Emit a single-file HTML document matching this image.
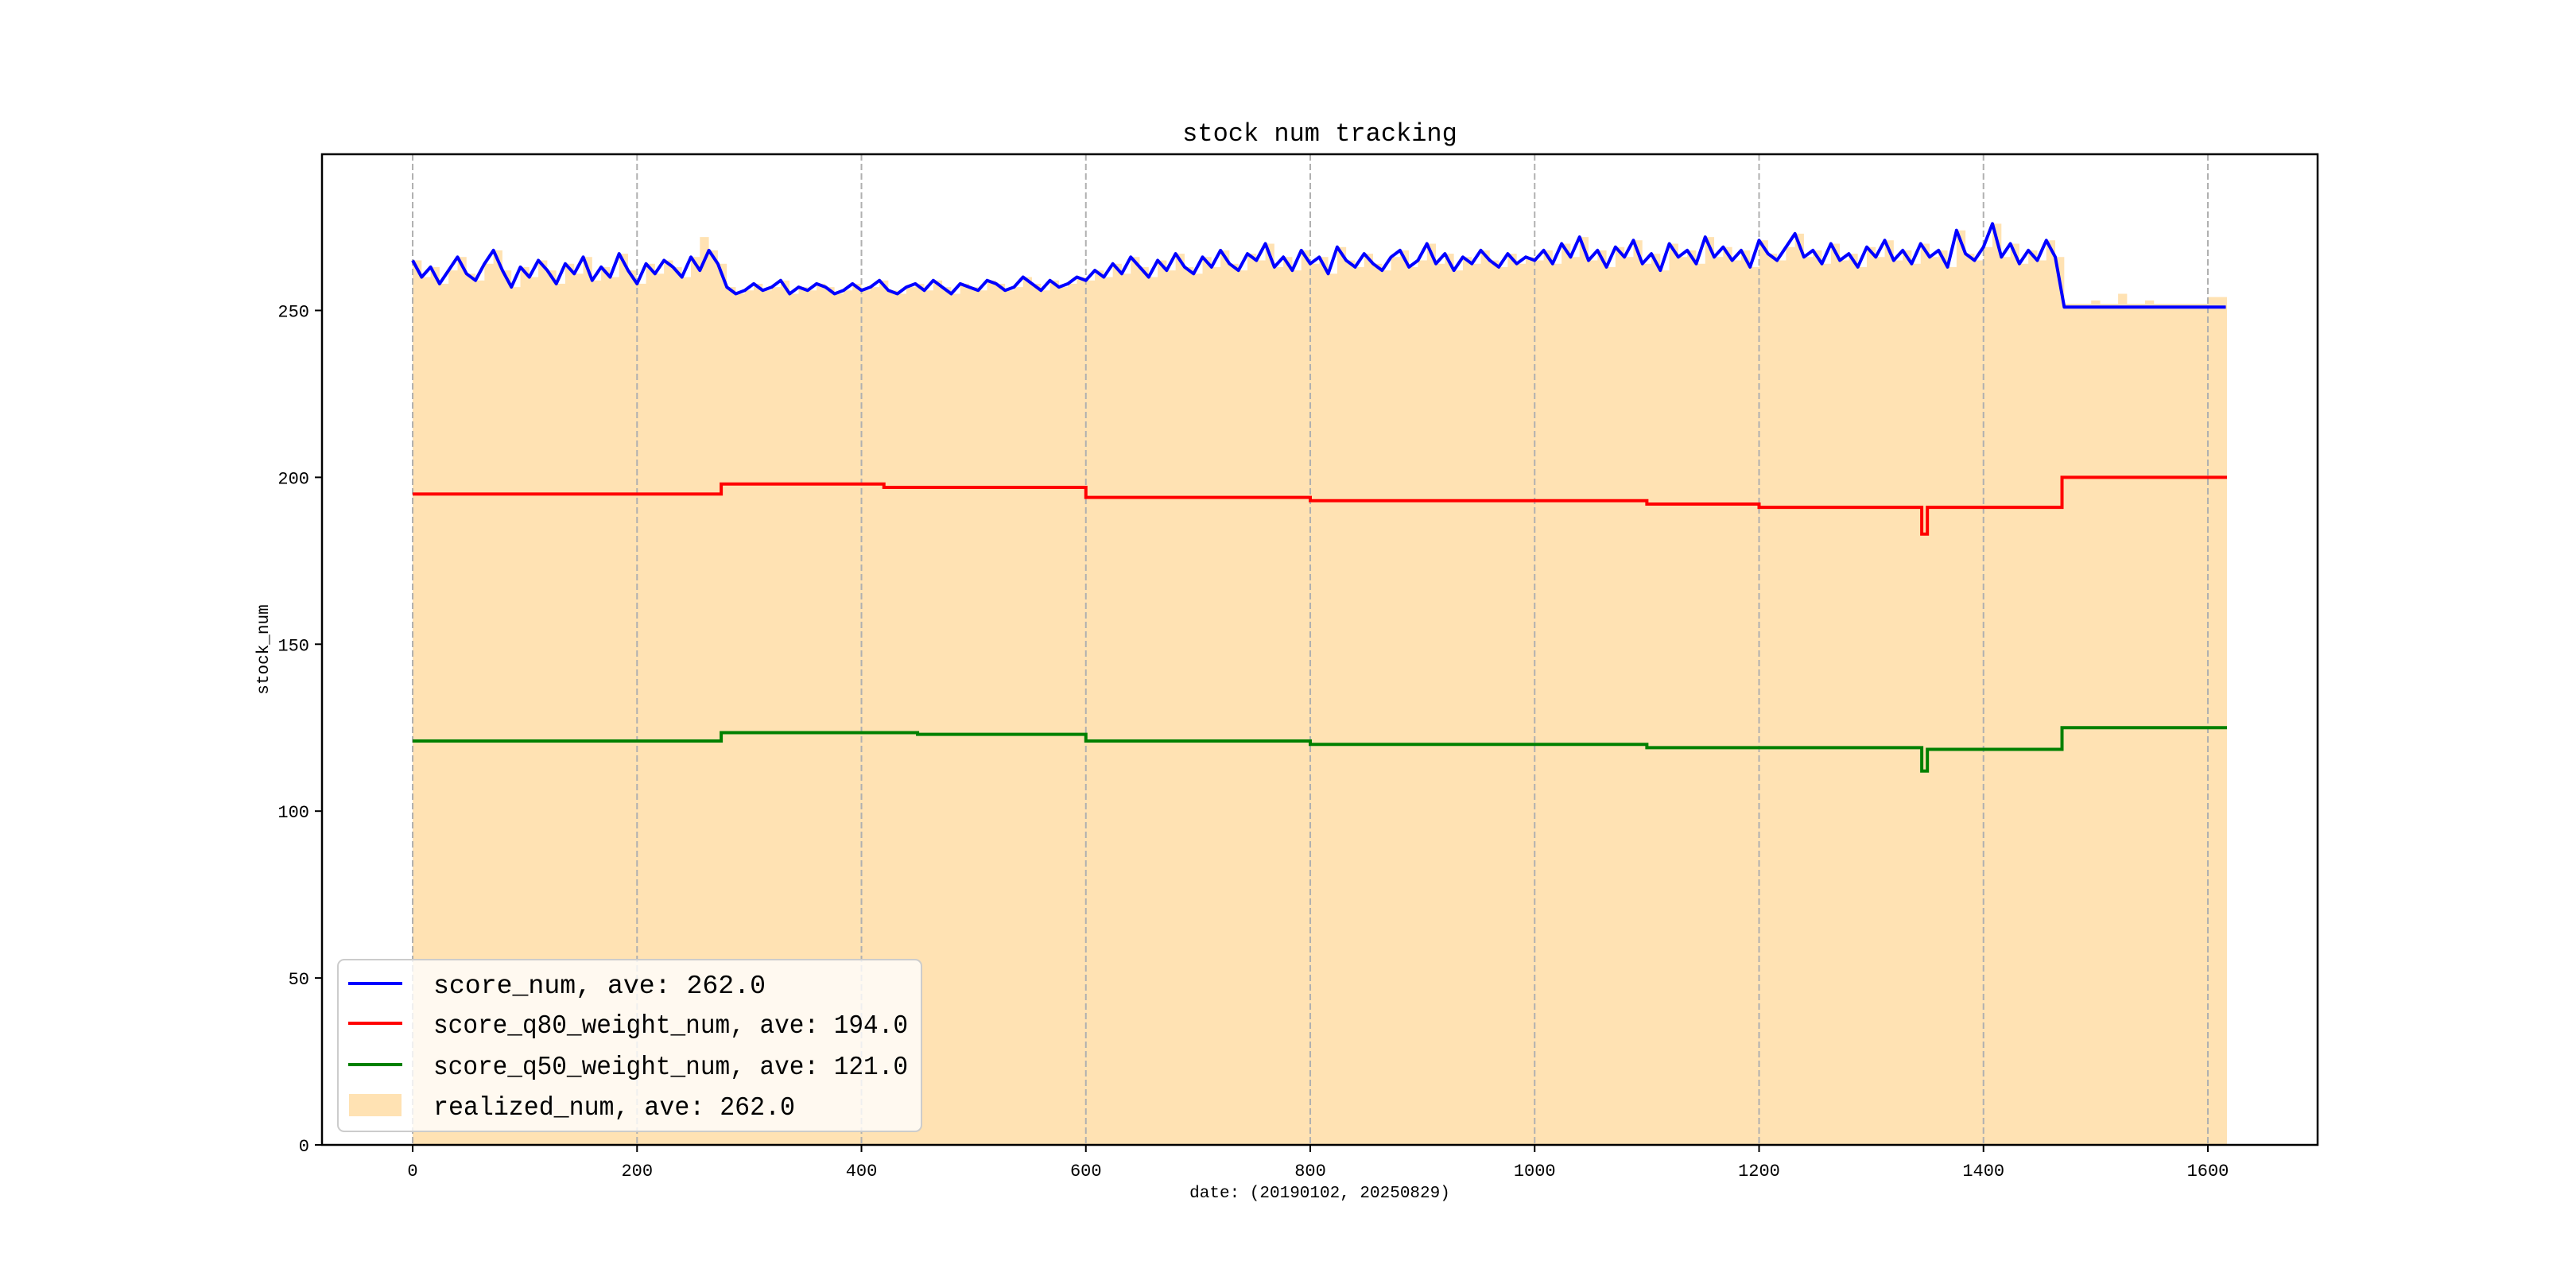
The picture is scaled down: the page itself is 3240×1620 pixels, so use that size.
<!DOCTYPE html>
<html><head><meta charset="utf-8"><style>
html,body{margin:0;padding:0;background:#fff}
svg{display:block}
text{font-family:"Liberation Mono","Noto Sans CJK SC",monospace;fill:#000}
</style></head><body>
<svg id="chart" width="3240" height="1620" viewBox="0 0 3240 1620" xmlns="http://www.w3.org/2000/svg">
<rect x="405" y="194" width="2510" height="1246" fill="#fff"/>
<g id="fillLayer"></g>
<g id="gridLayer"></g>
<g id="lineLayer"></g>
<rect x="405" y="194" width="2510" height="1246" fill="none" stroke="#000" stroke-width="2.5"/>
<g id="tickLayer"></g>
<text x="1660" y="177" font-size="32" text-anchor="middle">stock num tracking</text>
<text x="1660" y="1506" font-size="21" text-anchor="middle">date: (20190102, 20250829)</text>
<text x="337" y="817" font-size="21" text-anchor="middle" transform="rotate(-90 337 817)">stock_num</text>
<g>
<rect x="425" y="1207" width="734" height="216" rx="8" fill="#fff" fill-opacity="0.8" stroke="#ccc" stroke-width="2"/>
<g><line x1="438" y1="1237" x2="506" y2="1237" stroke="#0000ff" stroke-width="4"/><text x="545" y="1249" font-size="33" textLength="418" lengthAdjust="spacingAndGlyphs">score_num, ave: 262.0</text></g>
<g><line x1="438" y1="1287" x2="506" y2="1287" stroke="#ff0000" stroke-width="4"/><text x="545" y="1299" font-size="33" textLength="597" lengthAdjust="spacingAndGlyphs">score_q80_weight_num, ave: 194.0</text></g>
<g><line x1="438" y1="1339" x2="506" y2="1339" stroke="#008000" stroke-width="4"/><text x="545" y="1351" font-size="33" textLength="597" lengthAdjust="spacingAndGlyphs">score_q50_weight_num, ave: 121.0</text></g>
<g><rect x="439" y="1376" width="66" height="28" fill="#ffe2b3"/><text x="545" y="1402" font-size="33" textLength="455" lengthAdjust="spacingAndGlyphs">realized_num, ave: 262.0</text></g>
</g>
</svg>
<script>
const STEP = 8;
const scoreVals = [265,260,263,258,262,266,261,259,264,268,262,257,263,260,265,262,258,264,261,266,259,263,260,267,262,258,264,261,265,263,260,266,262,268,264,
257,255,256,258,256,257,259,255,257,256,258,257,255,256,258,256,257,259,256,255,257,258,256,259,257,255,258,257,256,259,258,256,257,260,258,256,259,257,258,260,259,
262,260,264,261,266,263,260,265,262,267,263,261,
266,263,268,264,262,267,265,270,263,266,262,268,264,266,261,269,265,263,267,264,262,266,268,263,265,270,264,267,262,266,264,268,265,263,267,264,266,
265,268,264,270,266,272,265,268,263,269,266,271,264,267,262,270,266,268,264,272,266,269,265,268,263,271,267,265,269,273,266,268,264,270,265,267,263,269,266,271,265,268,264,270,266,268,263,274,267,265,269,276,266,270,264,268,265,271,266,
251,251,251,251,251,251,251,251,251,251,251,251,251,251,251,251,251,251,251];
const realizedVals = [265,260,263,258,262,266,261,259,264,268,262,257,263,260,265,262,258,264,261,266,259,263,260,267,262,258,264,261,265,263,260,266,272,268,264,
257,255,256,258,256,257,259,255,257,256,258,257,255,256,258,256,257,259,256,255,257,258,256,259,257,255,258,257,256,259,258,256,257,260,258,256,259,257,258,260,259,
262,260,264,261,266,263,260,265,262,267,263,261,
266,263,268,264,262,267,265,270,263,266,262,268,264,266,261,269,265,263,267,264,262,266,268,263,265,270,264,267,262,266,264,268,265,263,267,264,266,
265,268,264,270,266,272,265,268,263,269,266,271,264,267,262,270,266,268,264,272,266,269,265,268,263,271,267,265,269,273,266,268,264,270,265,267,263,269,266,271,265,268,264,270,266,268,263,274,267,265,269,276,266,270,264,268,265,271,266,
252,252,252,253,252,252,255,252,252,253,252,252,252,252,252,252,254,254,254];
const q80Days = [0,275,420,600,800,1100,1200,1345,1350,1355,1470,1617];
const q80Vals = [195,198,197,194,193,192,191,183,191,191,200,200];
const q50Days = [0,275,450,600,800,1100,1345,1350,1355,1470,1617];
const q50Vals = [121,123.5,123,121,120,119,112,118.5,118.5,125,125];
const xTicks = [0,200,400,600,800,1000,1200,1400,1600];
const yTicks = [0,50,100,150,200,250];

const X0=405,X1=2915,Y0=1440,Y1=194,XMIN=-80.8,XMAX=1697.8,YMIN=0,YMAX=296.8;
const xs=v=>X0+(v-XMIN)/(XMAX-XMIN)*(X1-X0);
const ys=v=>Y0-(v-YMIN)/(YMAX-YMIN)*(Y0-Y1);
const NS='http://www.w3.org/2000/svg';
function mk(tag,attrs,parent){const e=document.createElementNS(NS,tag);for(const k in attrs)e.setAttribute(k,attrs[k]);parent.appendChild(e);return e;}

let d='M'+xs(0)+','+ys(0);
realizedVals.forEach((v,i)=>{const a=xs(i*STEP),b=xs(Math.min((i+1)*STEP,1617));d+=' L'+a+','+ys(v)+' L'+b+','+ys(v);});
d+=' L'+xs(1617)+','+ys(0)+' Z';
const area=mk('path',{d:d,fill:'#ffe2b3'},document.getElementById('fillLayer'));



const grid=document.getElementById('gridLayer'),tk=document.getElementById('tickLayer');
xTicks.forEach(t=>{
  const gl=mk('line',{x1:xs(t),x2:xs(t),y1:Y1,y2:Y0,stroke:'#b0b0b0','stroke-width':2,'stroke-dasharray':'8,4'},grid);
  
  
  const tl=mk('line',{x1:xs(t),x2:xs(t),y1:Y0,y2:Y0+9,stroke:'#000','stroke-width':2},tk);
  
  
  const tx=mk('text',{x:xs(t),y:Y0+39,'font-size':22,'text-anchor':'middle'},tk);
  tx.textContent=t;
  
  
});
yTicks.forEach(t=>{
  const tl=mk('line',{x1:X0-9,x2:X0,y1:ys(t),y2:ys(t),stroke:'#000','stroke-width':2},tk);
  
  
  const tx=mk('text',{x:X0-16,y:ys(t)+8,'font-size':22,'text-anchor':'end'},tk);
  tx.textContent=t;
  
  
});

const ll=document.getElementById('lineLayer');
const sp=scoreVals.map((v,i)=>xs(Math.min(i*STEP,1616))+','+ys(v)).join(' ');
const l1=mk('polyline',{points:sp,fill:'none',stroke:'#0000ff','stroke-width':4,'stroke-linejoin':'round'},ll);


function stepPts(days,vals){const p=[];for(let i=0;i<days.length;i++){if(i>0)p.push(xs(days[i])+','+ys(vals[i-1]));p.push(xs(days[i])+','+ys(vals[i]));}return p.join(' ');}
const l2=mk('polyline',{points:stepPts(q80Days,q80Vals),fill:'none',stroke:'#ff0000','stroke-width':4},ll);


const l3=mk('polyline',{points:stepPts(q50Days,q50Vals),fill:'none',stroke:'#008000','stroke-width':4},ll);


</script>
</body></html>
